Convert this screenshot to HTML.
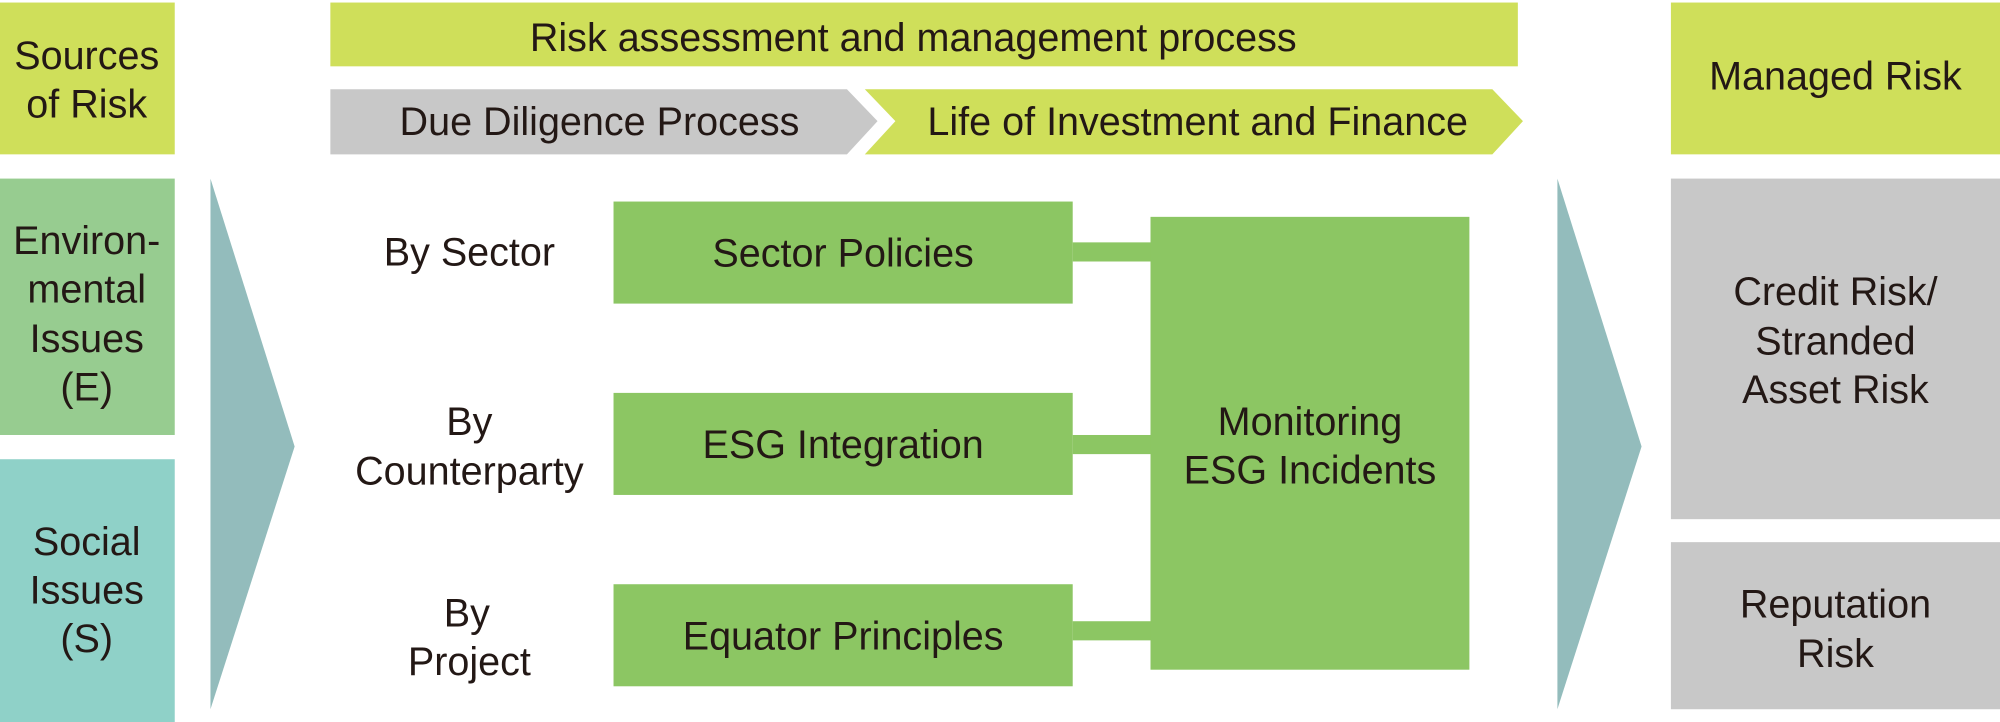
<!DOCTYPE html>
<html><head><meta charset="utf-8"><style>
html,body{margin:0;padding:0;background:#fff;}
svg{display:block}
text{font-family:"Liberation Sans",sans-serif;font-size:31px;fill:#231815;text-anchor:middle;}
</style></head><body>
<svg width="2000" height="722" viewBox="0 0 1568 566" preserveAspectRatio="none" xmlns="http://www.w3.org/2000/svg">
<rect x="0" y="2" width="137" height="119" fill="#cfdf5a"/>
<text x="68" y="54">Sources</text><text x="68" y="92">of Risk</text>
<rect x="0" y="140" width="137" height="201" fill="#97cc90"/>
<text x="68" y="199">Environ-</text><text x="68" y="237">mental</text><text x="68" y="276">Issues</text><text x="68" y="314">(E)</text>
<rect x="0" y="360" width="137" height="206" fill="#8fd1c8"/>
<text x="68" y="435">Social</text><text x="68" y="473">Issues</text><text x="68" y="511">(S)</text>
<polygon points="165,140 231,350 165,556" fill="#93bcbc"/>
<rect x="259" y="2" width="931" height="50" fill="#cfdf5a"/>
<text x="716" y="40">Risk assessment and management process</text>
<polygon points="259,70 664,70 688,95 664,121 259,121" fill="#c8c8c8"/>
<text x="470" y="106">Due Diligence Process</text>
<polygon points="678,70 1170,70 1194,95 1170,121 678,121 702,95" fill="#cfdf5a"/>
<text x="939" y="106">Life of Investment and Finance</text>
<text x="368" y="208">By Sector</text>
<text x="368" y="341">By</text><text x="368" y="380">Counterparty</text>
<text x="366" y="491">By</text><text x="368" y="529">Project</text>
<rect x="841" y="190" width="62" height="15" fill="#8cc663"/>
<rect x="841" y="341" width="62" height="15" fill="#8cc663"/>
<rect x="841" y="487" width="62" height="15" fill="#8cc663"/>
<rect x="481" y="158" width="360" height="80" fill="#8cc663"/>
<text x="661" y="209">Sector Policies</text>
<rect x="481" y="308" width="360" height="80" fill="#8cc663"/>
<text x="661" y="359">ESG Integration</text>
<rect x="481" y="458" width="360" height="80" fill="#8cc663"/>
<text x="661" y="509">Equator Principles</text>
<rect x="902" y="170" width="250" height="355" fill="#8cc663"/>
<text x="1027" y="341">Monitoring</text><text x="1027" y="379">ESG Incidents</text>
<polygon points="1221,140 1287,350 1221,556" fill="#93bcbc"/>
<rect x="1310" y="2" width="258" height="119" fill="#cfdf5a"/>
<text x="1439" y="70">Managed Risk</text>
<rect x="1310" y="140" width="258" height="267" fill="#c8c8c8"/>
<text x="1439" y="239">Credit Risk/</text><text x="1439" y="278">Stranded</text><text x="1439" y="316">Asset Risk</text>
<rect x="1310" y="425" width="258" height="131" fill="#c8c8c8"/>
<text x="1439" y="484">Reputation</text><text x="1439" y="523">Risk</text>
</svg>
</body></html>
